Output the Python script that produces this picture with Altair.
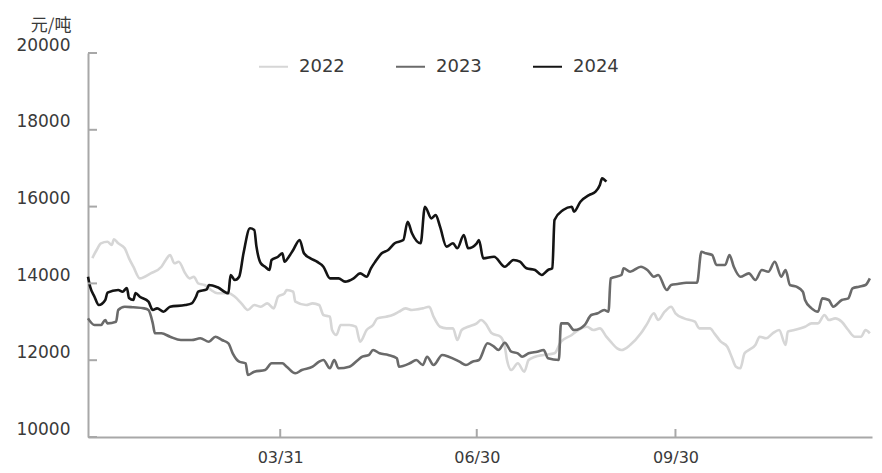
import altair as alt
import pandas as pd

YEARS = ["2022", "2023", "2024"]
COLORS = ["#d6d6d6", "#6a6a6a", "#141414"]
Y_UNIT = "元/吨"
Y_TICKS = [10000, 12000, 14000, 16000, 18000, 20000]
X_TICK_DAYS = [89, 180, 272]
X_TICK_LABELS = ["03/31", "06/30", "09/30"]

# day of year (0 = Jan 1) and price
D22 = [2,4,6,9,11,12,14,17,19,21,24,29,34,36,38,40,42,45,47,49,51,54,57,60,65,68,71,74,77,80,
       83,86,88,91,92,95,96,101,104,107,109,112,113,115,117,121,124,126,129,132,134,138,141,144,147,150,155,158,160,163,
       166,169,171,173,176,180,182,184,187,191,193,194,196,199,202,204,207,211,216,219,224,227,231,234,237,240,242,245,247,251,
       256,259,262,264,267,270,272,276,281,283,288,290,293,296,298,300,302,304,306,309,311,314,317,320,323,324,327,330,332,335,
       338,341,343,346,349,352,355,358,360,362]
V22 = [14660,14870,15044,15086,15000,15148,15044,14914,14653,14435,14132,14262,14435,14609,14740,14523,14565,14262,14132,14174,
       14002,13958,13828,13742,13742,13653,13481,13307,13437,13393,13481,13350,13653,13742,13828,13784,13523,13437,13481,13437,
       13177,13133,12786,12656,12917,12917,12872,12482,12786,12917,13090,13133,13177,13263,13350,13307,13350,13393,13133,12872,
       12830,12830,12526,12786,12872,12960,13047,12960,12700,12612,12352,12005,11745,11919,11701,12005,12091,12135,12179,12482,
       12656,12786,12872,12786,12830,12612,12482,12309,12265,12396,12700,12960,13221,13047,13263,13393,13221,13090,13003,12830,
       12830,12700,12482,12352,12091,11831,11789,12179,12265,12396,12612,12570,12700,12786,12396,12743,12786,12830,12872,12960,
       12960,13177,13047,13090,13003,12786,12612,12612,12786,12700]

D23 = [0,3,6,8,9,13,14,17,21,26,28,30,31,34,38,43,48,52,56,59,62,65,67,70,73,74,77,82,85,90,
       92,96,99,104,107,109,112,114,116,121,125,127,130,132,135,139,143,144,149,152,155,157,160,164,167,172,175,178,181,185,
       188,190,193,196,199,201,204,208,211,213,218,219,222,225,228,230,233,236,239,241,242,247,248,251,256,259,262,264,268,270,
       273,277,282,284,286,289,291,295,297,299,302,306,309,312,315,318,321,323,325,328,331,332,335,338,340,343,345,349,352,354,
       357,360,362]
V23 = [13090,12917,12917,13047,12960,13003,13307,13393,13377,13350,13307,12960,12700,12700,12612,12526,12526,12570,12482,12612,
       12526,12440,12179,11961,11919,11614,11701,11745,11919,11919,11831,11659,11745,11831,11961,12005,11789,12005,11789,11831,
       12005,12091,12135,12265,12179,12135,12049,11831,11919,12005,11875,12091,11875,12135,12091,11961,11875,11961,12005,12440,
       12352,12265,12456,12222,12179,12091,12179,12222,12265,12049,12005,12960,12960,12786,12830,12917,13177,13221,13307,13263,
       14132,14219,14393,14305,14435,14349,14174,14219,13828,13958,13984,14018,14018,14826,14784,14740,14479,14479,14740,14435,
       14174,14262,14089,14349,14305,14565,14174,14349,13958,13914,13784,13567,13350,13263,13611,13567,13393,13567,13611,13872,
       13914,13958,14132]

D24 = [0,1,3,5,8,9,14,16,18,19,21,22,24,28,30,32,35,38,45,48,50,51,55,56,60,65,66,68,70,72,
       75,77,78,80,82,84,85,88,90,91,93,95,98,100,103,106,109,112,116,119,123,126,129,131,133,136,139,142,146,148,
       150,154,156,159,161,163,166,169,171,174,176,180,181,183,188,193,197,200,203,207,210,213,215,216,220,224,225,228,232,235,
       237,238,240]
V24 = [14174,13914,13653,13437,13567,13758,13828,13784,13880,13620,13567,13750,13653,13523,13307,13350,13263,13393,13437,13481,
       13653,13784,13846,13958,13898,13742,14219,14089,14174,14784,15435,15391,14957,14523,14435,14349,14609,14695,14784,14565,
       14695,14870,15130,14784,14653,14565,14435,14132,14132,14045,14132,14262,14174,14393,14565,14784,14870,15044,15130,15607,
       15304,15044,15997,15694,15781,15477,14957,15044,14914,15260,14914,15044,15130,14653,14695,14435,14609,14565,14393,14349,
       14219,14349,14393,15651,15911,15997,15867,16127,16301,16388,16562,16735,16648]

rows = []
for yr, ds, vs in zip(YEARS, [D22, D23, D24], [V22, V23, V24]):
    for d, v in zip(ds, vs):
        rows.append({"year": yr, "day": d, "value": v})
df = pd.DataFrame(rows)

W, H = 784, 384
AXIS_GRAY = "#a8a8a8"
TEXT = "#3a3a3a"
FONT = "DejaVu Sans"

xscale = alt.Scale(domain=[0, 363], nice=False, zero=False)
yscale = alt.Scale(domain=[Y_TICKS[0], Y_TICKS[-1]], nice=False, zero=False)

label_expr = " : ".join(f"datum.value == {d} ? '{l}'" for d, l in zip(X_TICK_DAYS, X_TICK_LABELS)) + " : ''"

x_axis = alt.Axis(
    values=X_TICK_DAYS, labelExpr=label_expr, ticks=False, tickSize=0, grid=False,
    domainColor=AXIS_GRAY, domainWidth=2, labelFont=FONT, labelFontSize=16,
    labelColor=TEXT, labelPadding=12, title=None)
y_axis = alt.Axis(
    values=Y_TICKS, format="d", ticks=False, tickSize=0, grid=False,
    domainColor=AXIS_GRAY, domainWidth=2, labelFont=FONT, labelFontSize=17,
    labelColor=TEXT, labelPadding=18, labelOffset=-8,
    title=Y_UNIT, titleAngle=0, titleAlign="right", titleBaseline="alphabetic",
    titleX=-17, titleY=-23, titleFont="Noto Sans CJK SC", titleFontSize=17,
    titleFontWeight="normal", titleColor=TEXT)

lines = alt.Chart(df).mark_line(strokeWidth=2.6, interpolate="monotone").encode(
    x=alt.X("day:Q", scale=xscale, axis=x_axis, title=None),
    y=alt.Y("value:Q", scale=yscale, axis=y_axis, title=Y_UNIT),
    color=alt.Color("year:N", scale=alt.Scale(domain=YEARS, range=COLORS), legend=alt.Legend(
        orient="none", legendX=170, legendY=-2, direction="horizontal", title=None,
        symbolType="stroke", symbolSize=841, symbolStrokeWidth=2,
        labelFont=FONT, labelFontSize=18, labelColor=TEXT, labelOffset=10,
        columnPadding=47, padding=0)),
)

ytick_df = pd.DataFrame({"value": Y_TICKS})
yticks = alt.Chart(ytick_df).mark_rule(color=AXIS_GRAY, strokeWidth=2).encode(
    y=alt.Y("value:Q", scale=yscale, axis=y_axis, title=Y_UNIT), x=alt.value(0), x2=alt.value(9))

xtick_df = pd.DataFrame({"day": X_TICK_DAYS})
xticks = alt.Chart(xtick_df).mark_rule(color=AXIS_GRAY, strokeWidth=2).encode(
    x=alt.X("day:Q", scale=xscale, axis=x_axis, title=None), y=alt.value(H), y2=alt.value(H - 8))

chart = alt.layer(lines, yticks, xticks).properties(
    width=W, height=H,
    autosize=alt.AutoSizeParams(type="none"),
    padding={"left": 80, "top": 45, "right": 2, "bottom": 28},
).configure_view(stroke=None)

chart.save("out.html", embed_options={"renderer": "svg", "actions": False})
